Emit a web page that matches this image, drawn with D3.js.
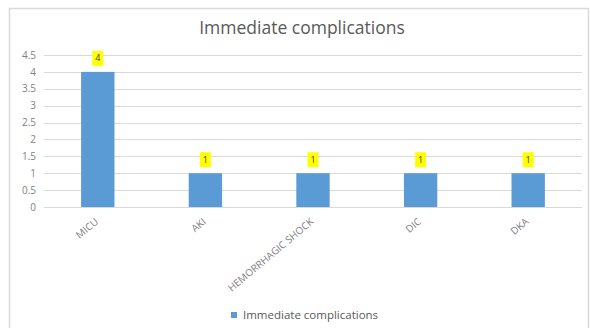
<!DOCTYPE html>
<html>
<head>
<meta charset="utf-8">
<script src="https://cdn.jsdelivr.net/npm/d3@7"></script>
<style>
  html, body { margin: 0; padding: 0; background: #ffffff; }
  svg { display: block; }
  text { font-family: "Open Sans", "Noto Sans", sans-serif; }
</style>
</head>
<body>
<svg id="chart" width="590" height="328"></svg>
<script>
// Chart data
const categories = ["MICU", "AKI", "HEMORRHAGIC SHOCK", "DIC", "DKA"];
const values = [4, 1, 1, 1, 1];
const yTicks = [0, 0.5, 1, 1.5, 2, 2.5, 3, 3.5, 4, 4.5];
const seriesName = "Immediate complications";
const titleText = "Immediate complications";

const margin = { left: 44 };
const plotRight = 582;
const svg = d3.select("#chart");

// chart frame
svg.append("rect")
  .attr("x", 9.5).attr("y", 8.5)
  .attr("width", 579).attr("height", 340)
  .attr("fill", "#ffffff")
  .attr("stroke", "#d9d9d9").attr("stroke-width", 1.5);

const x = d3.scaleBand()
  .domain(categories)
  .range([margin.left, plotRight])
  .paddingInner(0.69)
  .paddingOuter(0.345);

const y = d3.scaleLinear()
  .domain([0, 4.5])
  .range([207, 55]);

// gridlines
svg.append("g")
  .selectAll("line")
  .data(yTicks)
  .join("line")
  .attr("x1", margin.left).attr("x2", plotRight)
  .attr("y1", d => Math.round(y(d)) + 0.5)
  .attr("y2", d => Math.round(y(d)) + 0.5)
  .attr("stroke", "#d9d9d9").attr("stroke-width", 1);

// y axis labels
const yAxis = d3.axisLeft(y).tickValues(yTicks).tickSize(0).tickPadding(0)
  .tickFormat(d3.format("~g"));
const gy = svg.append("g").attr("transform", `translate(36,0)`).call(yAxis);
gy.select(".domain").remove();
gy.selectAll("text")
  .attr("fill", "#7f7f7f")
  .style("font-size", "10px")
  .style("font-family", '"Open Sans", sans-serif');

// bars
svg.append("g")
  .selectAll("rect")
  .data(values)
  .join("rect")
  .attr("x", (d, i) => x(categories[i]))
  .attr("width", x.bandwidth())
  .attr("y", d => y(d))
  .attr("height", d => y(0) - y(d))
  .attr("fill", "#5b9bd5");

// data labels on yellow boxes
const lab = svg.append("g")
  .selectAll("g")
  .data(values)
  .join("g")
  .attr("transform", (d, i) =>
    `translate(${x(categories[i]) + x.bandwidth() / 2},${y(d) - 6})`);
lab.append("rect")
  .attr("x", -5.5).attr("y", -15)
  .attr("width", 11).attr("height", 15)
  .attr("fill", "#ffff00");
lab.append("text")
  .attr("text-anchor", "middle")
  .attr("y", -4.5)
  .attr("fill", "#404040")
  .style("font-size", "9px")
  .text(d => d);

// category axis
const xAxis = d3.axisBottom(x).tickSize(0).tickPadding(0);
const gx = svg.append("g").attr("transform", `translate(0,${y(0)})`).call(xAxis);
gx.select(".domain")
  .attr("stroke", "#d9d9d9")
  .attr("d", `M${margin.left},0.5H${plotRight}`);
gx.selectAll("text")
  .attr("fill", "#7f7f7f")
  .style("font-size", "10px")
  .attr("text-anchor", "end")
  .attr("dy", "0.35em")
  .attr("transform", "translate(-1,13) rotate(-40)");

// title
svg.append("text")
  .attr("x", 302).attr("y", 34)
  .attr("text-anchor", "middle")
  .attr("fill", "#595959")
  .style("font-size", "17.5px")
  .text(titleText);

// legend
const lg = svg.append("g").attr("transform", "translate(231,312)");
lg.append("rect").attr("width", 6).attr("height", 6).attr("fill", "#5b9bd5");
lg.append("text")
  .attr("x", 12).attr("y", 7)
  .attr("fill", "#595959")
  .style("font-size", "11.5px")
  .text(seriesName);
</script>
</body>
</html>
